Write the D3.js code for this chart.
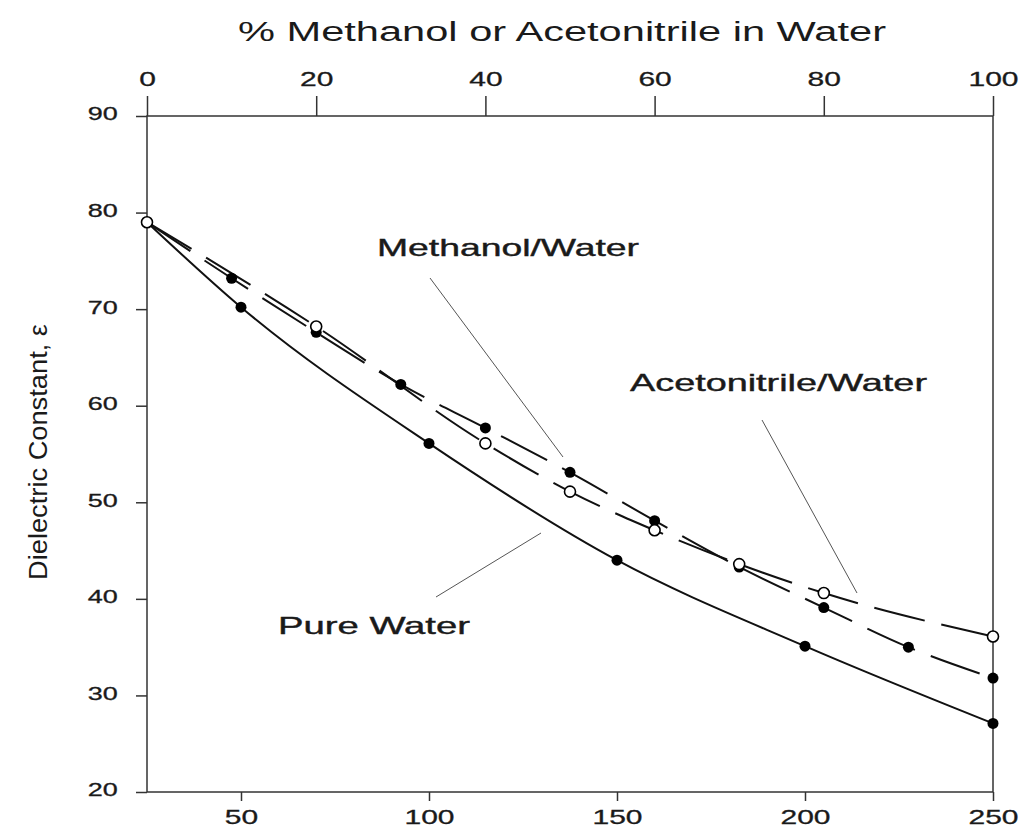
<!DOCTYPE html>
<html>
<head>
<meta charset="utf-8">
<script src="https://cdn.jsdelivr.net/npm/d3@7"></script>
<style>
  html, body { margin: 0; padding: 0; background: #fff; overflow: hidden; }
  svg { display: block; font-family: "Liberation Sans", Arial, sans-serif; }
</style>
</head>
<body>
<svg id="chart" width="1024" height="830"></svg>
<script>
// ---- data ----
const temperatureTicks = [50, 100, 150, 200, 250];
const percentTicks = [0, 20, 40, 60, 80, 100];
const dielectricTicks = [20, 30, 40, 50, 60, 70, 80, 90];

// Pure water: temperature (°C) vs dielectric constant
const waterTemp = [25, 50, 100, 150, 200, 250];
const waterEps  = [79, 70.2, 56.1, 44.0, 35.1, 27.1];

// Methanol/Water: % organic vs dielectric constant (filled circles)
const methanolPct = [0, 10, 20, 30, 40, 50, 60, 70, 80, 90, 100];
const methanolEps = [79, 73.2, 67.6, 62.2, 57.7, 53.1, 48.1, 43.3, 39.1, 35.0, 31.8];

// Acetonitrile/Water: % organic vs dielectric constant (open circles)
const acnPct = [0, 20, 40, 50, 60, 70, 80, 100];
const acnEps = [79, 68.2, 56.1, 51.1, 47.1, 43.6, 40.6, 36.1];

const labels = [
  { text: "Methanol/Water", x: 377, y: 256, len: 262, lx1: 430, ly1: 278, lx2: 563, ly2: 457 },
  { text: "Acetonitrile/Water", x: 630, y: 391, len: 297, lx1: 762, ly1: 420, lx2: 857, ly2: 593 },
  { text: "Pure Water", x: 278, y: 634, len: 192, lx1: 436, ly1: 597, lx2: 541, ly2: 533 }
];

// ---- layout ----
const L = 147, R = 993, T = 116, B = 792;
const svg = d3.select("#chart");
const x = d3.scaleLinear().domain([25, 250]).range([L, R]);
const xTop = d3.scaleLinear().domain([0, 100]).range([L, R]);
const y = d3.scaleLinear().domain([20, 90]).range([B, T]);
const SX = 1.5; // horizontal stretch of the scanned figure

const axisColor = "#333";
const textColor = "#1a1a1a";
function styleAxis(g, fs) {
  g.select(".domain").remove();
  g.selectAll(".tick line").attr("stroke", axisColor).attr("stroke-width", 1.5);
  g.selectAll(".tick text")
    .attr("fill", textColor)
    .attr("stroke", textColor).attr("stroke-width", 0.3)
    .style("font-size", fs + "px")
    .attr("transform", `scale(${SX},1)`);
}

// bottom axis
svg.append("g").attr("transform", `translate(0,${B})`)
  .call(d3.axisBottom(x).tickValues(temperatureTicks).tickSize(9).tickPadding(9).tickSizeOuter(0))
  .call(g => styleAxis(g, 20));

// top axis
svg.append("g").attr("transform", `translate(0,${T})`)
  .call(d3.axisTop(xTop).tickValues(percentTicks).tickSize(20).tickPadding(10).tickSizeOuter(0))
  .call(g => styleAxis(g, 20));

// left axis
const gl = svg.append("g").attr("transform", `translate(${L},0)`)
  .call(d3.axisLeft(y).tickValues(dielectricTicks).tickSize(11).tickPadding(8.5).tickSizeOuter(0))
  .call(g => styleAxis(g, 18));
gl.selectAll(".tick text").attr("dy", "0.22em");

// frame
svg.append("rect")
  .attr("x", L).attr("y", T).attr("width", R - L).attr("height", B - T)
  .attr("fill", "none").attr("stroke", axisColor).attr("stroke-width", 1.5);

// titles
svg.append("text")
  .attr("x", 562).attr("y", 41).attr("text-anchor", "middle")
  .attr("textLength", 648).attr("lengthAdjust", "spacingAndGlyphs")
  .style("font-size", "27px").attr("fill", textColor)
  .text("% Methanol or Acetonitrile in Water");

svg.append("text")
  .attr("transform", `translate(47,${(T + B) / 2 - 2}) rotate(-90)`)
  .attr("text-anchor", "middle")
  .attr("textLength", 256).attr("lengthAdjust", "spacingAndGlyphs")
  .style("font-size", "26px").attr("fill", textColor)
  .text("Dielectric Constant, ε");

// leader lines and labels
labels.forEach(d => {
  svg.append("line")
    .attr("x1", d.lx1).attr("y1", d.ly1).attr("x2", d.lx2).attr("y2", d.ly2)
    .attr("stroke", "#555").attr("stroke-width", 1);
  svg.append("text")
    .attr("x", d.x).attr("y", d.y)
    .attr("textLength", d.len).attr("lengthAdjust", "spacingAndGlyphs")
    .style("font-size", "24px").attr("fill", textColor)
    .attr("stroke", textColor).attr("stroke-width", 0.4)
    .text(d.text);
});

// series
const water = waterTemp.map((t, i) => [x(t), y(waterEps[i])]);
const methanol = methanolPct.map((p, i) => [xTop(p), y(methanolEps[i])]);
const acn = acnPct.map((p, i) => [xTop(p), y(acnEps[i])]);

const line = d3.line().curve(d3.curveMonotoneX);

svg.append("path").attr("d", line(water))
  .attr("fill", "none").attr("stroke", "#111").attr("stroke-width", 2);
svg.append("path").attr("d", line(methanol))
  .attr("fill", "none").attr("stroke", "#111").attr("stroke-width", 2)
  .attr("stroke-dasharray", "52,17");
svg.append("path").attr("d", line(acn))
  .attr("fill", "none").attr("stroke", "#111").attr("stroke-width", 2)
  .attr("stroke-dasharray", "52,17");

const r = 5.5;
svg.append("g").selectAll("circle").data(water).join("circle")
  .attr("cx", d => d[0]).attr("cy", d => d[1]).attr("r", r).attr("fill", "#000");
svg.append("g").selectAll("circle").data(methanol).join("circle")
  .attr("cx", d => d[0]).attr("cy", d => d[1]).attr("r", r).attr("fill", "#000");
svg.append("g").selectAll("circle").data(acn).join("circle")
  .attr("cx", d => d[0]).attr("cy", d => d[1]).attr("r", r)
  .attr("fill", "#fff").attr("stroke", "#000").attr("stroke-width", 1.6);
</script>
</body>
</html>
